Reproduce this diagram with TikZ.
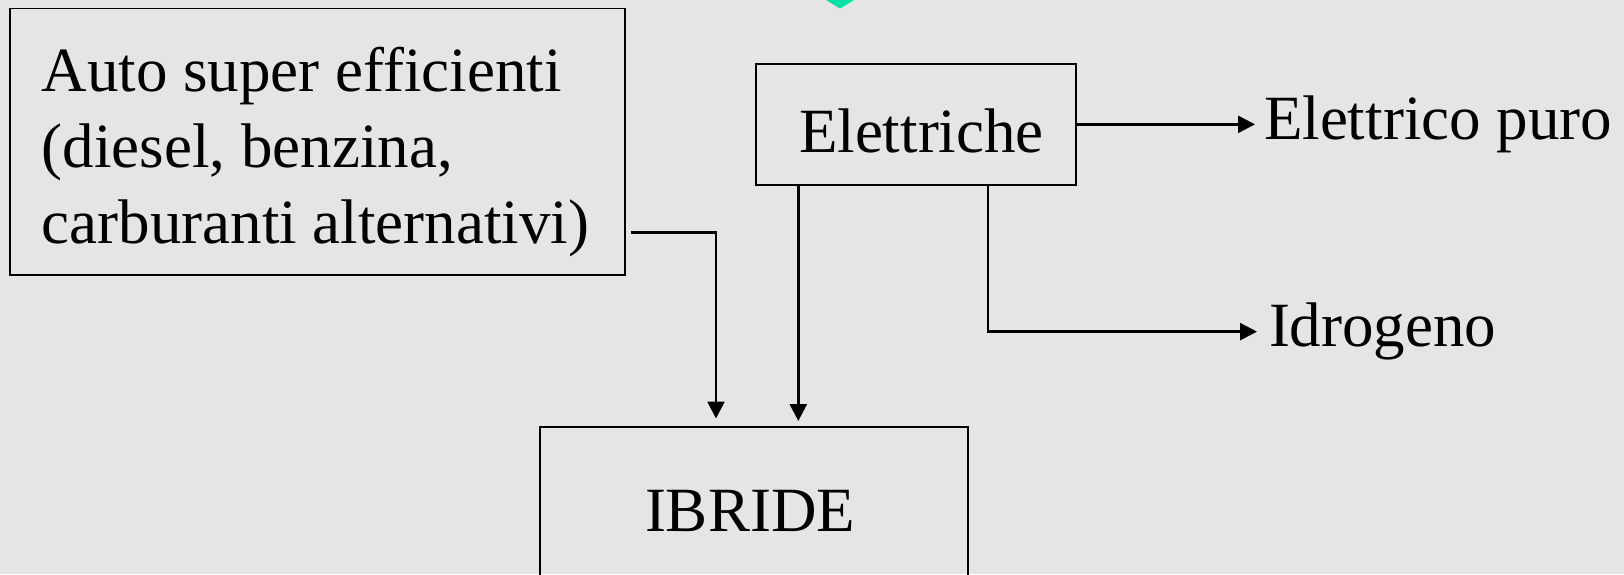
\documentclass[tikz,border=0pt]{standalone}
\usepackage{fontspec}
\setmainfont{Liberation Serif}
\usetikzlibrary{arrows.meta,calc}
\definecolor{pagebg}{RGB}{229,229,229}
\definecolor{mint}{RGB}{0,224,168}
\begin{document}
\begin{tikzpicture}[x=1pt,y=-1pt,
  box/.style={draw=black, inner sep=0pt, outer sep=0pt, anchor=north west},
  txt/.style={inner sep=0pt, outer sep=0pt, anchor=base west, font=\fontsize{63}{76}\selectfont},
  conn/.style={line width=2.6pt, -{Triangle[length=17pt,width=17pt]}}]
\useasboundingbox (0,0) rectangle (1624,574);
\clip (0,0) rectangle (1624,574);
\fill[pagebg] (0,0) rectangle (1624,574);
% tip of the marker at the top edge
\fill[mint] (826,0) -- (854,0) -- (840,8.5) -- cycle;

% boxes
\node[box, line width=1.3pt, minimum width=615pt, minimum height=266.7pt] (auto) at (10,8.3) {};
% multi-line text: the base anchor sits on the last line
\node[txt, align=left] (autotext) at (41.7,243) {Auto super efficienti\\(diesel, benzina,\\carburanti alternativi)};
\node[box, line width=1.8pt, minimum width=320pt, minimum height=120.7pt] (elet) at (756,64) {};
\node[txt] (eletlabel) at (799,152) {Elettriche};
\node[box, line width=2pt, minimum width=428pt, minimum height=200pt] (ibride) at (539.5,427) {};
\node[txt] (ibridelabel) at (645,531.7) {IBRIDE};

% targets on the right
\node[txt] (puro) at (1264,139) {Elettrico puro};
\node[txt] (idro) at (1269,346.7) {Idrogeno};

% connectors
\draw[conn, shorten >=8.5pt] ($(auto.south east)+(6,-42.7)$) -| ($(ibride.north west)+(176.5,0)$);
\draw[conn, shorten >=6pt] ($(elet.south west)+(42.3,0)$) coordinate (ed) -- (ed |- ibride.north);
\draw[conn, shorten >=9pt] (elet.east) -- (elet.east -| puro.west);
\draw[conn, shorten >=12pt] ($(elet.south west)+(232,0)$) |- (idro.west);
\end{tikzpicture}
\end{document}
